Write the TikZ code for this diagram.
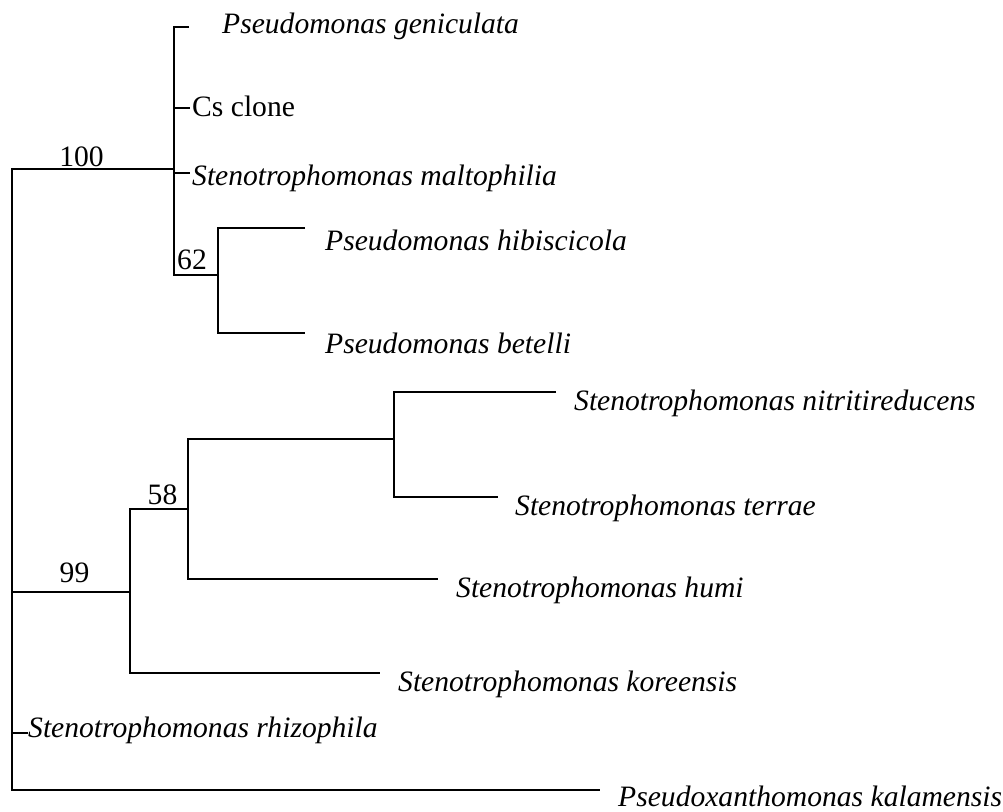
\documentclass[tikz,border=0pt]{standalone}
\usepackage{fontspec}
\setmainfont{Liberation Serif}
\begin{document}
\begin{tikzpicture}[x=1pt,y=-1pt,
  branch/.style={draw=black,line width=2.7pt,line join=miter},
  taxon/.style={anchor=base west,inner sep=0pt,font=\fontsize{29.6}{34}\selectfont\itshape},
  plain/.style={anchor=base west,inner sep=0pt,font=\fontsize{29.6}{34}\selectfont},
  boot/.style={anchor=base,inner sep=0pt,font=\fontsize{29.6}{34}\selectfont}]
\useasboundingbox (0,0) rectangle (1003,811);
% internal nodes
\coordinate (rb) at (12,790);
\coordinate (rc) at (12,592);
\coordinate (rr) at (12,733);
\coordinate (A) at (174,169);
\coordinate (cs0) at (174,108);
\coordinate (mal0) at (174,173);
\coordinate (B) at (218,275);
\coordinate (C) at (130,592);
\coordinate (D) at (188,509);
\coordinate (E) at (394,439);
% leaf tips
\coordinate (gentip) at (189,27);
\coordinate (cstip) at (190,108);
\coordinate (maltip) at (190,173);
\coordinate (hibtip) at (305,228);
\coordinate (bettip) at (305,333);
\coordinate (nitritip) at (556,392);
\coordinate (terrtip) at (498,497);
\coordinate (humitip) at (438,579);
\coordinate (kortip) at (380,673);
\coordinate (rhizotip) at (28,733);
\coordinate (kaltip) at (600,790);
% branches
\draw[branch] (A) -| (rb) -- (kaltip);
\draw[branch] (rc) -- (C);
\draw[branch] (rr) -- (rhizotip);
\draw[branch] (gentip) -| (A) |- (B);
\draw[branch] (cs0) -- (cstip);
\draw[branch] (mal0) -- (maltip);
\draw[branch] (hibtip) -| (B) |- (bettip);
\draw[branch] (D) -| (C) |- (kortip);
\draw[branch] (E) -| (D) |- (humitip);
\draw[branch] (nitritip) -| (E) |- (terrtip);
% taxa
\node[taxon] (gen) at (222,33) {Pseudomonas geniculata};
\node[plain] (cs) at (192,116) {Cs clone};
\node[taxon] (mal) at (192,185) {Stenotrophomonas maltophilia};
\node[taxon] (hib) at (325,250) {Pseudomonas hibiscicola};
\node[taxon] (bet) at (325,353) {Pseudomonas betelli};
\node[taxon] (nitri) at (574,410) {Stenotrophomonas nitritireducens};
\node[taxon] (terr) at (515,515) {Stenotrophomonas terrae};
\node[taxon] (humi) at (456,597) {Stenotrophomonas humi};
\node[taxon] (kor) at (398,691) {Stenotrophomonas koreensis};
\node[taxon] (rhizo) at (28,737) {Stenotrophomonas rhizophila};
\node[taxon] (kal) at (618,806) {Pseudoxanthomonas kalamensis};
% bootstrap values
\node[boot] (b100) at (81.5,166) {100};
\node[boot] (b62) at (192,269) {62};
\node[boot] (b99) at (74.5,582) {99};
\node[boot] (b58) at (162.5,504) {58};
\end{tikzpicture}
\end{document}
